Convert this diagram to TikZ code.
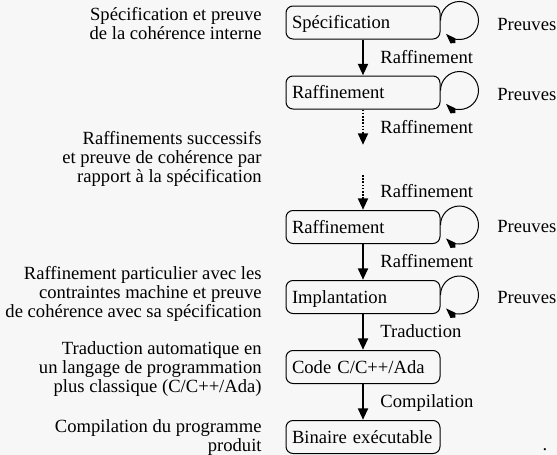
\documentclass[tikz,border=0pt]{standalone}
\usepackage{fontspec}
\setmainfont{Liberation Serif}
\usetikzlibrary{arrows.meta}

\begin{document}
\begin{tikzpicture}[
  x=0.5pt,y=0.5pt,
  font=\fontsize{9.3}{9.5}\selectfont,
  stage/.style={draw,rounded corners=3.5pt,line width=0.5pt,minimum width=77pt,minimum height=16.5pt,
    text width=71pt,align=left,inner sep=3pt,text height=6.8pt,text depth=0.8pt},
  lab/.style={anchor=base west,inner sep=0pt},
  note/.style={anchor=east,align=right,inner sep=0pt},
  conn/.style={line width=1.4pt,-{Triangle[width=4.8pt,length=5.8pt]}},
  connd/.style={conn,dash pattern=on 0.8pt off 0.8pt},
  proof/.style={line width=0.5pt,-{Kite[width=3.5pt,length=6.5pt]}}]

\useasboundingbox[fill=black!3] (0,0) rectangle (557,-455);

% Left-hand commentary.
\node[note] (n1) at (262,-24) {Spécification et preuve\\de la cohérence interne};
\node[note] (n2) at (262,-159) {Raffinements successifs\\et preuve de cohérence par\\rapport à la spécification};
\node[note] (n3) at (262,-294) {Raffinement particulier avec les\\contraintes machine et preuve\\de cohérence avec sa spécification};
\node[note] (n4) at (262,-369) {Traduction automatique en\\un langage de programmation\\plus classique (C/C++/Ada)};
\node[note] (n5) at (262,-438) {Compilation du programme\\produit};

% Development chain.
\node[stage] (spec) at (363,-22.5) {Spécification};
\node[stage] (raf1) at (363,-92.5) {Raffinement};
\node[stage] (raf2) at (363,-227) {Raffinement};
\node[stage] (impl) at (363,-297) {Implantation};
\node[stage] (code) at (363,-367) {Code C/C++/Ada};
\node[stage] (bin)  at (363,-437) {Binaire exécutable};

% Gap of the successive refinements.
\coordinate (gapa) at (363,-145);
\coordinate (gapb) at (363,-175);

\draw[conn]  (spec) -- (raf1);
\draw[connd] (raf1) -- (gapa);
\draw[connd] (gapb) -- (raf2);
\draw[conn]  (raf2) -- (impl);
\draw[conn]  (impl) -- (code);
\draw[conn]  (code) -- (bin);

\node[lab] (l1) at (380,-63) {Raffinement};
\node[lab] (l2) at (380,-133) {Raffinement};
\node[lab] (l3) at (380,-197) {Raffinement};
\node[lab] (l4) at (380,-267) {Raffinement};
\node[lab] (l5) at (380,-337) {Traduction};
\node[lab] (l6) at (380,-407) {Compilation};

% Proof loops.
\draw[proof] ([yshift=1pt]spec.east) arc[start angle=180,end angle=-135,radius=9.5pt];
\draw[proof] ([yshift=1pt]raf1.east) arc[start angle=180,end angle=-135,radius=9.5pt];
\draw[proof] ([yshift=1pt]raf2.east) arc[start angle=180,end angle=-135,radius=9.5pt];
\draw[proof] ([yshift=1pt]impl.east) arc[start angle=180,end angle=-135,radius=9.5pt];

\node[lab] (p1) at (497,-30) {Preuves};
\node[lab] (p2) at (497,-100) {Preuves};
\node[lab] (p3) at (497,-232) {Preuves};
\node[lab] (p4) at (497,-303) {Preuves};

\node[inner sep=0pt] (dot) at (545,-450) {.};
\end{tikzpicture}
\end{document}
